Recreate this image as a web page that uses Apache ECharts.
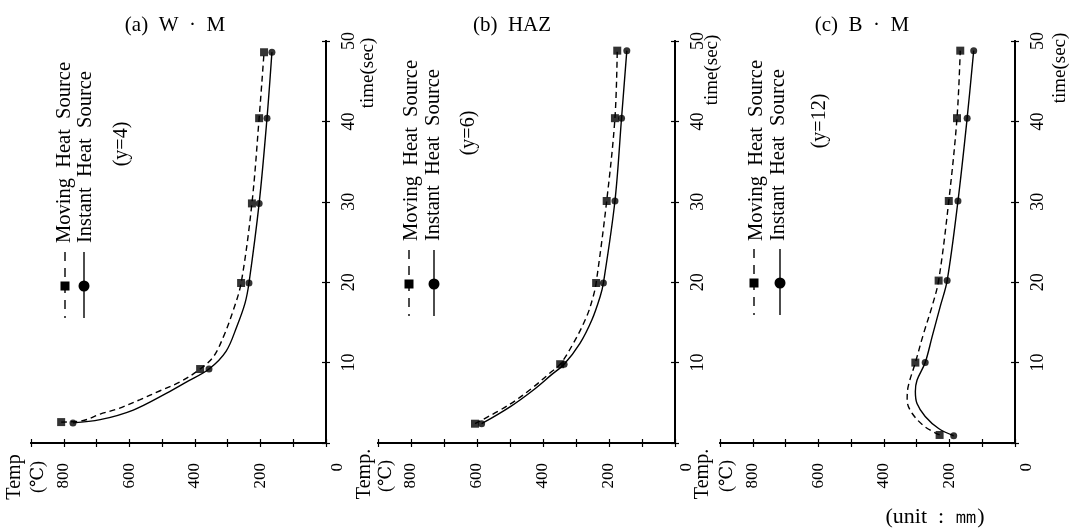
<!DOCTYPE html>
<html>
<head>
<meta charset="utf-8">
<script src="https://cdn.jsdelivr.net/npm/echarts/dist/echarts.min.js"></script>
<style>
html,body{margin:0;padding:0;background:#fff;}
#chart{width:1072px;height:529px;}
</style>
</head>
<body>
<div id="chart"></div>
<script>
// ---- data (temperature in deg C, time in sec) ----
const panelTitles = ['(a)  W  ·  M', '(b)  HAZ', '(c)  B  ·  M'];
const panelNotes = ['(y=4)', '(y=6)', '(y=12)'];
const tempTicks = [0, 200, 400, 600, 800];
const timeTicks = [10, 20, 30, 40, 50];

// Panel (a) W.M
const aMoveTemp = [808, 384, 259, 226, 204, 189];
const aMoveTime = [2.6, 9.2, 19.9, 29.8, 40.4, 48.6];
const aInstTemp = [772, 357, 235, 204, 180, 165];
const aInstTime = [2.5, 9.2, 19.9, 29.8, 40.4, 48.6];
const aMoveCurveTemp = [808, 740, 689, 639, 567, 506, 445, 384, 344, 313, 283, 259, 226, 204, 189];
const aMoveCurveTime = [2.6, 2.8, 3.6, 4.2, 5.4, 6.5, 7.6, 9.2, 10.7, 13.2, 16.5, 19.9, 29.8, 40.4, 48.6];
const aInstCurveTemp = [772, 689, 588, 486, 425, 357, 305, 272, 247, 235, 204, 180, 165];
const aInstCurveTime = [2.5, 2.9, 4.1, 6.2, 7.6, 9.2, 11.4, 14.5, 17.4, 19.9, 29.8, 40.4, 48.6];

// Panel (b) HAZ
const bMoveTemp = [606, 348, 239, 207, 182, 175];
const bMoveTime = [2.4, 9.8, 19.9, 30.1, 40.4, 48.8];
const bInstTemp = [586, 336, 217, 182, 162, 146];
const bInstTime = [2.4, 9.8, 19.9, 30.1, 40.4, 48.8];
const bMoveCurveTemp = [606, 505, 434, 379, 348, 308, 268, 248, 239, 207, 182, 175];
const bMoveCurveTime = [2.4, 4.7, 6.8, 8.7, 9.8, 12.4, 15.7, 18.2, 19.9, 30.1, 40.4, 48.8];
const bInstCurveTemp = [586, 500, 429, 374, 336, 288, 252, 227, 217, 182, 162, 146];
const bInstCurveTime = [2.4, 4.5, 6.6, 8.5, 9.8, 12.4, 15.3, 18.2, 19.9, 30.1, 40.4, 48.8];

// Panel (c) B.M
const cMoveTemp = [230, 304, 233, 202, 177, 167];
const cMoveTime = [1.0, 10.0, 20.2, 30.1, 40.4, 48.8];
const cInstTemp = [187, 274, 207, 174, 146, 126];
const cInstTime = [0.9, 10.0, 20.2, 30.1, 40.4, 48.8];
const cMoveCurveTemp = [230, 274, 314, 329, 326, 304, 279, 253, 233, 202, 177, 167];
const cMoveCurveTime = [1.0, 2.0, 3.7, 5.3, 7.0, 10.0, 13.6, 17.0, 20.2, 30.1, 40.4, 48.8];
const cInstCurveTemp = [187, 233, 274, 299, 304, 299, 274, 253, 228, 207, 174, 146, 126];
const cInstCurveTime = [0.9, 1.8, 3.3, 4.9, 6.4, 7.8, 10.0, 13.2, 17.0, 20.2, 30.1, 40.4, 48.8];

const legendMoving = 'Moving  Heat  Source';
const legendInstant = 'Instant  Heat  Source';

// ---- layout ----
const FONT = '"Liberation Serif", "DejaVu Serif", serif';
const grids = [
  {left: 31, top: 41, width: 295, height: 402},
  {left: 378, top: 41, width: 297, height: 402},
  {left: 720, top: 41, width: 295, height: 402}
];
const panels = [
  {mT: aMoveTemp, mS: aMoveTime, iT: aInstTemp, iS: aInstTime, mcT: aMoveCurveTemp, mcS: aMoveCurveTime, icT: aInstCurveTemp, icS: aInstCurveTime},
  {mT: bMoveTemp, mS: bMoveTime, iT: bInstTemp, iS: bInstTime, mcT: bMoveCurveTemp, mcS: bMoveCurveTime, icT: bInstCurveTemp, icS: bInstCurveTime},
  {mT: cMoveTemp, mS: cMoveTime, iT: cInstTemp, iS: cInstTime, mcT: cMoveCurveTemp, mcS: cMoveCurveTime, icT: cInstCurveTemp, icS: cInstCurveTime}
];
function zip(a, b) { return a.map((v, k) => [v, b[k]]); }

const xAxes = [], yAxes = [], series = [], titles = [], graphics = [];
const lineStyleAxis = {color: '#000', width: 2};
const titleX = [170, 507, 857];

grids.forEach((g, i) => {
  xAxes.push({
    gridIndex: i, type: 'value', min: 0, max: 900, interval: 100, inverse: true, position: 'bottom',
    axisLine: {show: true, lineStyle: lineStyleAxis},
    axisTick: {show: true, inside: true, length: 4, lineStyle: {color: '#000', width: 1.2}},
    splitLine: {show: false},
    axisLabel: {
      rotate: 90, margin: 20, color: '#000', fontFamily: FONT, fontSize: 17,
      formatter: v => (tempTicks.indexOf(v) >= 0 ? (v === 0 ? '{z|0}' : String(v)) : ''),
      rich: {z: {fontFamily: FONT, fontSize: 17, color: '#000', padding: [24, 0, 0, 0]}}
    }
  });
  xAxes.push({
    gridIndex: i, type: 'value', min: 0, max: 900, interval: 100, inverse: true, position: 'top',
    axisLine: {show: true, lineStyle: lineStyleAxis},
    axisTick: {show: true, inside: true, length: 4, lineStyle: {color: '#000', width: 1.2}},
    splitLine: {show: false}, axisLabel: {show: false}
  });
  yAxes.push({
    gridIndex: i, type: 'value', min: 0, max: 50, interval: 10, position: 'right',
    axisLine: {show: true, lineStyle: lineStyleAxis},
    axisTick: {show: true, inside: true, length: 4, lineStyle: {color: '#000', width: 1.2}},
    splitLine: {show: false},
    axisLabel: {
      rotate: 90, margin: 14, color: '#000', fontFamily: FONT, fontSize: 18,
      formatter: v => (timeTicks.indexOf(v) >= 0 ? String(v) : '')
    }
  });
  yAxes.push({
    gridIndex: i, type: 'value', min: 0, max: 50, interval: 10, position: 'left',
    axisLine: {show: true, lineStyle: lineStyleAxis},
    axisTick: {show: true, inside: true, length: 4, lineStyle: {color: '#000', width: 1.2}},
    splitLine: {show: false}, axisLabel: {show: false}
  });
  const p = panels[i];
  const xi = 2 * i, yi = 2 * i;
  series.push({
    type: 'line', xAxisIndex: xi, yAxisIndex: yi, data: zip(p.mcT, p.mcS), smooth: 0.35,
    symbol: 'none', lineStyle: {color: '#000', width: 1.4, type: [6, 4]}, silent: true
  });
  series.push({
    type: 'line', xAxisIndex: xi, yAxisIndex: yi, data: zip(p.icT, p.icS), smooth: 0.35,
    symbol: 'none', lineStyle: {color: '#000', width: 1.4}, silent: true
  });
  series.push({
    type: 'scatter', xAxisIndex: xi, yAxisIndex: yi, data: zip(p.mT, p.mS),
    symbol: 'rect', symbolSize: 8, itemStyle: {color: '#000'}, silent: true
  });
  series.push({
    type: 'scatter', xAxisIndex: xi, yAxisIndex: yi, data: zip(p.iT, p.iS),
    symbol: 'circle', symbolSize: 7, itemStyle: {color: '#000'}, silent: true
  });
  titles.push({
    text: panelTitles[i], left: titleX[i], top: 10, textAlign: 'center',
    textStyle: {fontFamily: FONT, fontSize: 21, fontWeight: 'normal', color: '#000'}
  });
});

function rtext(txt, x, y, size, align) {
  return {
    type: 'text', x: x, y: y, rotation: Math.PI / 2, silent: true,
    style: {text: txt, font: size + 'px ' + FONT, fill: '#000',
      align: align, textAlign: align, verticalAlign: 'middle', textVerticalAlign: 'middle'}
  };
}

// legends and annotations per panel
const legendPos = [
  {sq: 65, ci: 84, y: 286, tm: 65, ti: 86, ty: 243, nx: 122, ny: 144},
  {sq: 409, ci: 434, y: 284, tm: 412, ti: 434, ty: 241, nx: 469, ny: 133},
  {sq: 754, ci: 780, y: 283, tm: 757, ti: 779, ty: 241, nx: 820, ny: 121}
];
legendPos.forEach((L, i) => {
  graphics.push({type: 'line', silent: true, shape: {x1: L.sq, y1: L.y - 34, x2: L.sq, y2: L.y + 32},
    style: {stroke: '#000', lineWidth: 1.4, lineDash: [9, 7]}});
  graphics.push({type: 'rect', silent: true, shape: {x: L.sq - 4.5, y: L.y - 4.5, width: 9, height: 9}, style: {fill: '#000'}});
  graphics.push({type: 'line', silent: true, shape: {x1: L.ci, y1: L.y - 34, x2: L.ci, y2: L.y + 32},
    style: {stroke: '#000', lineWidth: 1.4}});
  graphics.push({type: 'circle', silent: true, shape: {cx: L.ci, cy: L.y, r: 5.5}, style: {fill: '#000'}});
  graphics.push(rtext(legendMoving, L.tm, L.ty, 20.5, 'left'));
  graphics.push(rtext(legendInstant, L.ti, L.ty, 20.5, 'left'));
  graphics.push(rtext(panelNotes[i], L.nx, L.ny, 20, 'center'));
});

// axis names
const timeName = [{x: 368, y: 73}, {x: 712, y: 70}, {x: 1060, y: 68}];
timeName.forEach(t => graphics.push(rtext('time(sec)', t.x, t.y, 19, 'center')));
graphics.push(rtext('Temp', 15, 477, 20, 'center'));
graphics.push(rtext('(℃)', 38, 477, 18, 'center'));
graphics.push(rtext('Temp.', 365, 474, 20, 'center'));
graphics.push(rtext('(℃)', 386, 476, 18, 'center'));
graphics.push(rtext('Temp.', 703, 474, 20, 'center'));
graphics.push(rtext('(℃)', 727, 476, 18, 'center'));
graphics.push({
  type: 'text', x: 935, y: 517, silent: true,
  style: {text: '(unit  :  ㎜)', font: '22px ' + FONT, fill: '#000', align: 'center', textAlign: 'center',
    verticalAlign: 'middle', textVerticalAlign: 'middle'}
});

const chart = echarts.init(document.getElementById('chart'));
chart.setOption({
  animation: false,
  backgroundColor: '#fff',
  title: titles,
  grid: grids.map(g => Object.assign({containLabel: false}, g)),
  xAxis: xAxes,
  yAxis: yAxes,
  series: series,
  graphic: {elements: graphics}
});
</script>
</body>
</html>
